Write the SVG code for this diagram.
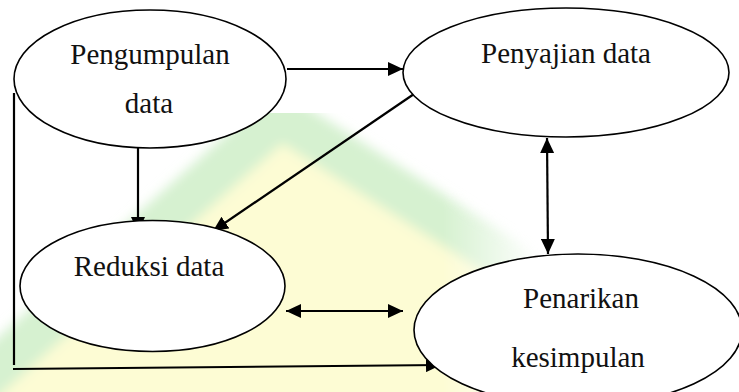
<svg xmlns="http://www.w3.org/2000/svg" width="739" height="392" viewBox="0 0 739 392">
  <style>
    .node ellipse { fill: #ffffff; stroke: #000000; stroke-width: 1.6; }
    .node text { font-family: "Liberation Serif", "Times New Roman", serif; font-size: 29px; fill: #111111; text-anchor: middle; }
    .edge { fill: none; stroke: #000000; stroke-width: 2.2; }
    .arrow { marker-end: url(#head); }
    .both { marker-start: url(#head); marker-end: url(#head); }
  </style>
  <defs>
    <marker id="head" markerUnits="userSpaceOnUse" markerWidth="16" markerHeight="14" refX="15" refY="7" orient="auto-start-reverse">
      <path d="M0,0 L15,7 L0,14 Z" fill="#000000"/>
    </marker>
    <linearGradient id="fade" x1="0" y1="0" x2="1" y2="0">
      <stop offset="0.82" stop-color="#ffffff"/>
      <stop offset="1" stop-color="#000000"/>
    </linearGradient>
    <mask id="wm-mask" maskUnits="userSpaceOnUse" x="0" y="0" width="739" height="392">
      <rect x="0" y="113" width="540" height="279" fill="url(#fade)"/>
    </mask>
    <filter id="soft" x="-10%" y="-10%" width="120%" height="120%">
      <feGaussianBlur stdDeviation="6"/>
    </filter>
  </defs>

  <rect width="739" height="392" fill="#ffffff"/>

  <!-- faint background emblem -->
  <g id="emblem" mask="url(#wm-mask)">
    <g filter="url(#soft)">
      <polygon points="-30,395 280,126 640,352 640,420 -30,420" fill="#fdfcd4"/>
      <polyline points="-30,392 280,116 640,345" fill="none" stroke="#d6f1d0" stroke-width="44" stroke-linejoin="miter"/>
    </g>
  </g>

  <!-- connectors -->
  <g id="connectors">
    <line class="edge arrow" x1="287" y1="69" x2="403" y2="69"/>
    <line class="edge arrow" x1="414" y1="94" x2="213" y2="231"/>
    <line class="edge arrow" x1="138" y1="148" x2="138" y2="232"/>
    <line class="edge both" x1="547" y1="138" x2="548" y2="254"/>
    <line class="edge both" x1="286" y1="311" x2="403" y2="311"/>
    <line class="edge" x1="14" y1="93" x2="14" y2="365"/>
    <line class="edge arrow" x1="13" y1="369" x2="441" y2="365"/>
  </g>

  <g id="pengumpulan" class="node">
    <ellipse cx="150" cy="79" rx="136" ry="69"/>
    <text x="150" y="64">Pengumpulan</text>
    <text x="149" y="113">data</text>
  </g>

  <g id="penyajian" class="node">
    <ellipse cx="566" cy="72.5" rx="163" ry="64.5"/>
    <text x="566" y="63">Penyajian data</text>
  </g>

  <g id="reduksi" class="node">
    <ellipse cx="152.5" cy="286" rx="132.5" ry="65.5"/>
    <text x="149" y="276">Reduksi data</text>
  </g>

  <g id="penarikan" class="node">
    <ellipse cx="578" cy="330" rx="164" ry="76"/>
    <text x="581" y="308">Penarikan</text>
    <text x="578" y="367">kesimpulan</text>
  </g>
</svg>
